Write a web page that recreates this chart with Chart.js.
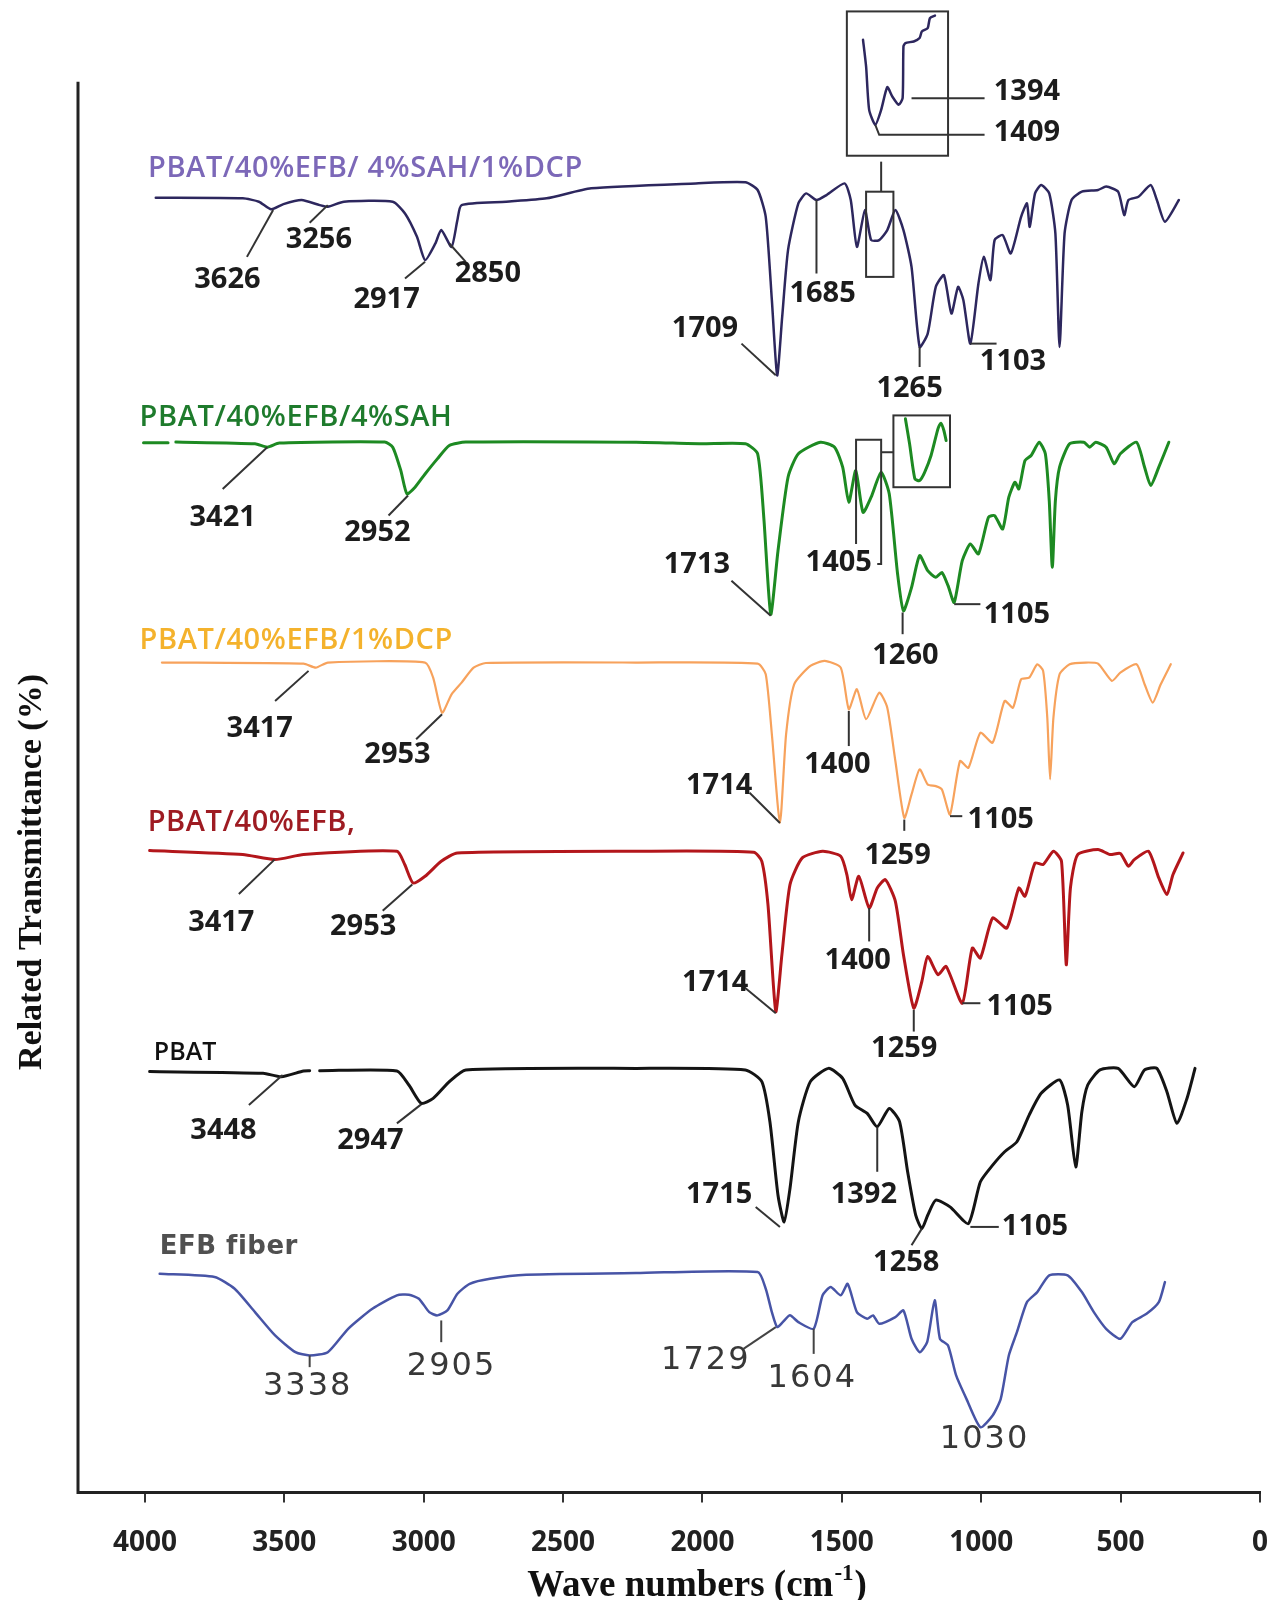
<!DOCTYPE html>
<html>
<head>
<meta charset="utf-8">
<script src="https://cdn.jsdelivr.net/npm/chart.js@4.4.0/dist/chart.umd.min.js"></script>
<style>
  html, body { margin: 0; padding: 0; background: #fff; }
  #wrap { width: 1271px; height: 1600px; }
</style>
</head>
<body>
<div id="wrap"><canvas id="ftir" width="1271" height="1600"></canvas></div>
<script>
// FTIR spectra, stacked with vertical offsets (x = wavenumber cm-1, y = relative transmittance)

const xTicks = [4000, 3500, 3000, 2500, 2000, 1500, 1000, 500, 0];

const seriesNames = ['PBAT/40%EFB/ 4%SAH/1%DCP', 'PBAT/40%EFB/4%SAH', 'PBAT/40%EFB/1%DCP', 'PBAT/40%EFB,', 'PBAT', 'EFB fiber'];
// where each series name sits (wavenumber, transmittance)
const seriesNameAnchors = [[3989, 93.87], [4019, 76.2], [4019, 60.37], [3990, 47.44], [3968, 31.18], [3947, 17.4]];

const purpleSpectrum = [[3961,91.78],[3649,91.74],[3591,91.5],[3547,90.96],[3503,91.33],[3438,91.62],[3373,91.26],[3344,91.14],[3286,91.5],[3111,91.5],[3067,90.67],[3024,89.01],[2995,87.36],[2958,88.54],[2937,89.49],[2900,88.3],[2879,90.2],[2864,91.26],[2704,91.5],[2559,91.74],[2399,92.45],[2024,92.8],[1846,92.88],[1802,92.33],[1773,90.43],[1751,84.52],[1732,79.19],[1714,83.33],[1693,88.07],[1656,91.38],[1628,92.09],[1591,91.62],[1555,91.97],[1490,92.8],[1468,91.62],[1446,88.3],[1417,90.91],[1395,88.78],[1366,88.78],[1337,89.49],[1308,90.91],[1279,89.49],[1250,86.88],[1221,81.2],[1192,82.15],[1163,85.46],[1134,86.29],[1107,83.57],[1083,85.46],[1064,84.52],[1039,81.44],[1010,85.7],[991,87.59],[967,85.94],[952,88.78],[923,89.13],[894,87.83],[857,90.43],[836,91.38],[826,89.72],[807,92.09],[785,92.68],[756,92.09],[734,89.25],[719,81.2],[701,89.25],[676,91.62],[639,92.21],[581,92.33],[552,92.57],[509,92.21],[487,90.55],[472,91.62],[436,91.85],[392,92.68],[370,91.62],[341,90.08],[291,91.62]];

const greenSpectrum = [[4005,74.41],[3917,74.41],[3903,null],[3889,74.46],[3605,74.34],[3561,74.1],[3518,74.39],[3140,74.46],[3111,74.1],[3082,72.44],[3060,70.79],[3031,71.26],[2995,72.2],[2951,73.27],[2908,74.22],[2849,74.46],[2238,74.45],[2005,74.34],[1846,74.34],[1802,73.63],[1780,69.13],[1755,62.26],[1729,66.76],[1693,71.97],[1656,73.63],[1577,74.45],[1526,74.1],[1497,72.68],[1475,70.19],[1450,72.44],[1424,69.48],[1395,70.55],[1359,72.32],[1330,70.79],[1300,65.11],[1279,62.5],[1250,64.15],[1221,66.41],[1192,65.34],[1163,64.87],[1141,65.22],[1119,64.28],[1097,63.09],[1068,66.05],[1039,67.24],[1010,66.53],[974,69.13],[952,69.25],[923,68.3],[901,70.55],[879,71.61],[865,71.14],[843,73.15],[821,73.51],[792,74.45],[770,73.63],[756,70.31],[745,65.58],[734,70.31],[719,72.68],[683,74.34],[632,74.45],[611,74.1],[589,74.45],[552,74.1],[523,72.92],[501,73.63],[443,74.45],[414,72.68],[392,71.38],[363,72.68],[327,74.45]];

const orangeSpectrum = [[3939,58.83],[3431,58.75],[3387,58.47],[3344,58.83],[2995,58.83],[2966,57.76],[2934,55.28],[2900,56.58],[2864,57.41],[2821,58.47],[2777,58.8],[2238,58.83],[1802,58.75],[1773,58.0],[1751,53.74],[1722,47.46],[1700,53.74],[1671,57.29],[1613,58.59],[1562,58.95],[1504,58.47],[1475,55.52],[1446,56.94],[1413,54.81],[1366,56.7],[1337,55.63],[1308,51.85],[1276,47.82],[1250,49.48],[1221,51.26],[1192,50.19],[1163,50.07],[1141,49.83],[1112,48.06],[1076,51.85],[1046,51.37],[1003,53.86],[959,53.15],[916,56.11],[886,55.63],[857,57.65],[828,57.76],[799,58.71],[778,58.24],[763,54.92],[753,50.55],[741,54.92],[719,58.0],[683,58.71],[625,58.83],[581,58.75],[531,57.53],[501,58.12],[443,58.71],[414,57.29],[385,55.99],[356,57.29],[320,58.71]];

const redSpectrum = [[3983,45.5],[3649,45.22],[3533,44.86],[3431,45.22],[3096,45.45],[3068,44.51],[3038,43.2],[2995,43.68],[2937,44.74],[2879,45.33],[2238,45.45],[1816,45.38],[1787,44.74],[1765,41.67],[1737,34.09],[1715,38.12],[1686,43.09],[1642,44.98],[1569,45.45],[1504,45.1],[1482,43.8],[1465,42.02],[1439,43.68],[1402,41.43],[1373,42.85],[1344,43.44],[1308,41.9],[1279,38.12],[1242,34.33],[1213,36.22],[1192,38.0],[1155,36.7],[1126,37.29],[1068,34.68],[1032,38.59],[1003,37.88],[959,40.72],[908,40.01],[865,42.85],[843,42.26],[807,44.62],[778,44.51],[741,45.45],[712,44.74],[695,37.41],[680,42.85],[654,45.22],[581,45.57],[538,45.22],[501,45.3],[472,44.39],[451,44.86],[400,45.45],[363,43.56],[334,42.38],[312,43.8],[276,45.33]];

const blackSpectrum = [[3983,29.83],[3576,29.71],[3511,29.47],[3431,29.88],[3409,29.9],[3395,null],[3373,29.9],[3096,29.88],[3053,28.88],[3009,27.58],[2966,27.93],[2908,29.12],[2849,29.95],[2238,30.06],[1846,29.95],[1787,29.12],[1758,26.28],[1729,21.07],[1707,19.18],[1686,21.54],[1656,26.28],[1613,29.12],[1548,30.06],[1497,29.35],[1453,27.46],[1409,26.87],[1373,25.92],[1330,27.22],[1293,26.28],[1264,22.73],[1235,19.65],[1213,18.7],[1192,19.65],[1163,20.72],[1112,20.24],[1046,19.06],[1003,22.02],[959,23.2],[916,24.15],[872,24.86],[828,26.75],[785,28.29],[719,29.24],[690,27.46],[661,23.08],[639,26.99],[618,28.88],[574,29.95],[509,30.06],[451,28.76],[414,29.95],[370,30.06],[334,28.41],[298,26.16],[262,27.93],[233,30.06]];

const blueSpectrum = [[3947,15.5],[3750,15.27],[3678,14.44],[3605,12.78],[3533,11.13],[3460,9.94],[3409,9.71],[3344,9.94],[3271,11.6],[3184,13.02],[3096,13.97],[3053,14.01],[3017,13.73],[2980,12.78],[2951,12.55],[2915,12.9],[2879,14.08],[2835,14.79],[2762,15.15],[2632,15.43],[2238,15.55],[1802,15.62],[1773,14.44],[1751,12.78],[1732,11.72],[1712,12.07],[1686,12.55],[1656,12.07],[1601,11.6],[1569,13.97],[1540,14.56],[1504,13.97],[1479,14.79],[1446,12.78],[1409,12.31],[1388,12.55],[1366,11.95],[1308,12.43],[1279,12.9],[1250,10.89],[1221,9.94],[1194,10.65],[1167,13.62],[1148,10.89],[1119,10.42],[1090,8.29],[1053,6.63],[1003,4.62],[959,5.45],[930,6.63],[901,9.71],[872,11.36],[836,13.49],[799,14.2],[756,15.39],[690,15.39],[639,14.2],[596,12.78],[552,11.6],[501,10.89],[458,12.07],[407,12.66],[363,13.49],[341,14.91]];

// magnified insets
const purpleInset = [[1424,102.98],[1413,101.09],[1402,98.01],[1380,96.95],[1359,98.01],[1337,99.62],[1319,98.96],[1296,98.37],[1282,98.84],[1279,102.51],[1272,102.75],[1242,102.86],[1221,103.1],[1213,103.57],[1192,103.81],[1184,104.52],[1166,104.69]];
const greenInset = [[1272,76.11],[1257,74.34],[1238,71.85],[1221,71.73],[1203,72.32],[1180,73.51],[1155,75.41],[1145,75.8],[1134,75.28],[1126,74.57]];

// boxes [w1, v1, w2, v2] and connector polylines
const insetBoxes = [[1482,104.99,1119,94.76],[1413,92.21,1315,86.17],[1315,76.35,1112,71.26]];
const connectors = [[[1359,94.34],[1359,92.21]],[[1359,73.74],[1315,73.74]]];

// peak labels: [text, w, v, leader polyline]
const purplePeaks = [
  ['3626', 3704, 85.99, [[3634,87.59],[3540,90.91]]],
  ['3256', 3376, 88.83, [[3409,90.01],[3344,91.26]]],
  ['2917', 3133, 84.52, [[3067,86.06],[2995,87.24]]],
  ['2850', 2770, 86.41, [[2908,88.54],[2849,87.24]]],
  ['1709', 1991, 82.51, [[1860,81.44],[1737,79.19]]],
  ['1685', 1569, 84.99, [[1591,91.62],[1591,86.41]]],
  ['1265', 1257, 78.24, [[1221,81.2],[1221,79.78]]],
  ['1103', 886, 80.14, [[1039,81.44],[945,81.44]]],
  ['1394', 836, 99.31, [[1250,98.84],[988,98.84]]],
  ['1409', 836, 96.36, [[1380,96.95],[1366,96.24],[988,96.24]]]
];
const greenPeaks = [
  ['3421', 3721, 69.08, [[3721,71.14],[3561,74.1]]],
  ['2952', 3166, 68.06, [[3126,69.25],[3056,70.67]]],
  ['1713', 2020, 65.77, [[1896,64.63],[1755,62.14]]],
  ['1405', 1511, 65.93, [[1449,67.24],[1449,74.62],[1359,74.62],[1359,65.82],[1373,65.82]]],
  ['1260', 1272, 59.3, [[1282,62.38],[1282,60.84]]],
  ['1105', 872, 62.22, [[1097,62.97],[1003,62.97]]]
];
const orangePeaks = [
  ['3417', 3588, 54.17, [[3533,56.11],[3413,58.24]]],
  ['2953', 3094, 52.32, [[3027,53.39],[2934,55.16]]],
  ['1714', 1940, 50.07, [[1831,49.6],[1722,47.46]]],
  ['1400', 1516, 51.61, [[1475,55.4],[1475,52.91]]],
  ['1259', 1300, 45.17, [[1276,47.7],[1276,46.9]]],
  ['1105', 930, 47.7, [[1112,47.94],[1068,47.94]]]
];
const redPeaks = [
  ['3417', 3726, 40.36, [[3663,42.42],[3535,44.86]]],
  ['2953', 3217, 40.13, [[3147,41.24],[3041,43.09]]],
  ['1714', 1954, 36.1, [[1853,35.87],[1737,33.97]]],
  ['1400', 1443, 37.71, [[1402,41.43],[1402,39.06]]],
  ['1259', 1276, 31.44, [[1242,34.21],[1242,32.67]]],
  ['1105', 862, 34.45, [[1068,34.68],[1003,34.68]]]
];
const blackPeaks = [
  ['3448', 3718, 25.64, [[3627,27.46],[3506,29.59]]],
  ['2947', 3191, 24.93, [[3096,26.16],[3009,27.51]]],
  ['1715', 1940, 21.07, [[1809,20.24],[1722,18.82]]],
  ['1392', 1421, 21.07, [[1373,25.92],[1373,22.73]]],
  ['1258', 1269, 16.29, [[1213,18.7],[1250,17.52]]],
  ['1105', 807, 18.82, [[1039,18.82],[937,18.82]]]
];
const bluePeaks = [
  ['3338', 3416, 7.46, [[3409,9.71],[3409,8.88]]],
  ['2905', 2900, 8.88, [[2937,12.19],[2937,10.65]]],
  ['1729', 1988, 9.35, [[1853,10.18],[1737,11.72]]],
  ['1604', 1606, 8.05, [[1601,11.6],[1601,9.82]]],
  ['1030', 988, 3.74, []]
];

const lineColors = ['#2d275e', '#1d8a22', '#f7a25c', '#b3161b', '#141414', '#4754a6'];
const nameColors = ['#7c68b8', '#1e7b2c', '#f4b22c', '#9e1b22', '#111111', '#505050'];
const spectra = [purpleSpectrum, greenSpectrum, orangeSpectrum, redSpectrum, blackSpectrum, blueSpectrum];
const peaks = [purplePeaks, greenPeaks, orangePeaks, redPeaks, blackPeaks, bluePeaks];

const toXY = arr => arr.map(p => ({ x: p[0], y: p[1] }));

const datasets = spectra.map((s, i) => ({
  label: seriesNames[i],
  data: toXY(s),
  borderColor: lineColors[i],
  borderWidth: [2.5, 3, 2.2, 3, 3, 2.5][i]
}));
datasets.push({ label: 'inset1', data: toXY(purpleInset), borderColor: lineColors[0], borderWidth: 2.5 });
datasets.push({ label: 'inset2', data: toXY(greenInset), borderColor: lineColors[1], borderWidth: 3 });

function setFont(ctx, font, spacing) {
  ctx.font = font;
  ctx.letterSpacing = (spacing || 0) + 'px';
}

const annotate = {
  id: 'annotate',
  afterDatasetsDraw(chart) {
    const { ctx, chartArea, scales: { x, y } } = chart;
    const px = w => x.getPixelForValue(w);
    const py = v => y.getPixelForValue(v);
    const poly = pts => {
      if (!pts.length) return;
      ctx.beginPath();
      pts.forEach((p, k) => k ? ctx.lineTo(px(p[0]), py(p[1])) : ctx.moveTo(px(p[0]), py(p[1])));
      ctx.stroke();
    };
    ctx.save();

    // left axis
    ctx.strokeStyle = '#222';
    ctx.lineWidth = 3;
    ctx.beginPath();
    ctx.moveTo(chartArea.left, py(100));
    ctx.lineTo(chartArea.left, chartArea.bottom + 1.5);
    ctx.stroke();

    // boxes + connectors
    ctx.strokeStyle = '#333';
    ctx.lineWidth = 2;
    insetBoxes.forEach(b => {
      ctx.strokeRect(px(b[0]), py(b[1]), px(b[2]) - px(b[0]), py(b[3]) - py(b[1]));
    });
    connectors.forEach(poly);

    // peak labels
    ctx.textAlign = 'center';
    ctx.textBaseline = 'middle';
    peaks.forEach((list, i) => {
      const efb = i === 5;
      list.forEach(([t, w, v, line]) => {
        ctx.strokeStyle = efb ? '#444' : '#333';
        ctx.lineWidth = 2;
        poly(line);
        if (efb) { setFont(ctx, '400 32px "DejaVu Sans"', 2); ctx.fillStyle = '#383838'; }
        else { setFont(ctx, '700 29px "Open Sans"', 0); ctx.fillStyle = '#1c1c1c'; }
        ctx.fillText(t, px(w), py(v));
      });
    });

    // series names
    ctx.textAlign = 'left';
    seriesNames.forEach((n, i) => {
      if (i === 4) setFont(ctx, '600 25px "Open Sans"', 0);
      else if (i === 5) setFont(ctx, '700 26px "DejaVu Sans"', 0.5);
      else setFont(ctx, '600 29px "Open Sans"', 0.6);
      ctx.fillStyle = nameColors[i];
      ctx.fillText(n, px(seriesNameAnchors[i][0]), py(seriesNameAnchors[i][1]));
    });

    // axis titles
    ctx.fillStyle = '#111';
    const big = '700 37px "Liberation Serif"', small = '700 23px "Liberation Serif"';
    const a = 'Wave numbers (cm', sup = '-1', b = ')';
    setFont(ctx, big, 0);
    const wa = ctx.measureText(a).width, wb = ctx.measureText(b).width;
    setFont(ctx, small, 0);
    const ws = ctx.measureText(sup).width;
    const tx = 696 - (wa + ws + wb) / 2;
    const ty = 1586;
    setFont(ctx, big, 0);
    ctx.fillText(a, tx, ty);
    setFont(ctx, small, 0);
    ctx.fillText(sup, tx + wa + 1, ty - 12);
    setFont(ctx, big, 0);
    ctx.fillText(b, tx + wa + ws + 2, ty);

    ctx.translate(32, 872);
    ctx.rotate(-Math.PI / 2);
    ctx.textAlign = 'center';
    setFont(ctx, '700 34px "Liberation Serif"', 0);
    ctx.fillText('Related Transmittance (%)', 0, 0);
    ctx.restore();
  }
};

new Chart(document.getElementById('ftir'), {
  type: 'line',
  data: { datasets },
  options: {
    responsive: false,
    animation: false,
    devicePixelRatio: 1,
    spanGaps: false,
    layout: { padding: { left: 78, right: 11, top: 0, bottom: 16 } },
    plugins: { legend: { display: false }, tooltip: { enabled: false } },
    elements: {
      point: { radius: 0 },
      line: { tension: 0.2, borderJoinStyle: 'round', borderCapStyle: 'round' }
    },
    scales: {
      x: {
        type: 'linear',
        reverse: true,
        min: 0,
        max: 4240,
        afterBuildTicks: s => { s.ticks = xTicks.map(v => ({ value: v })); },
        afterFit: s => { s.paddingRight = 0; s.paddingLeft = 0; },
        ticks: {
          autoSkip: false,
          maxRotation: 0,
          padding: 24,
          color: '#222',
          font: { family: 'Open Sans', weight: 'bold', size: 28 },
          callback: v => String(v)
        },
        grid: { drawOnChartArea: false, drawTicks: true, tickLength: 10, color: '#333', lineWidth: 2 },
        border: { display: true, color: '#222', width: 3 }
      },
      y: { display: false, min: 0, max: 105.8 }
    }
  },
  plugins: [annotate]
});
</script>
</body>
</html>
